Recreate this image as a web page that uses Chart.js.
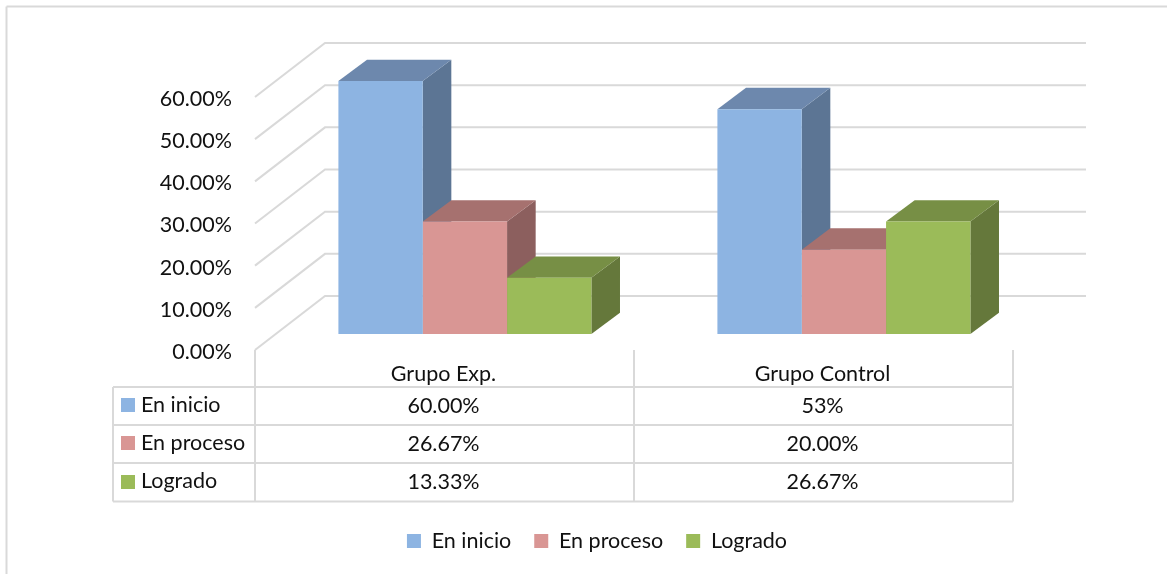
<!DOCTYPE html>
<html><head><meta charset="utf-8">
<style>html,body{margin:0;padding:0;background:#fff}#w{width:1167px;height:574px;position:relative}</style>
<script src="https://cdn.jsdelivr.net/npm/chart.js@4"></script>
</head><body><div id="w"><canvas id="c" width="1167" height="574"></canvas></div>
<script>
const categories = ['Grupo Exp.', 'Grupo Control'];
const seriesNames = ['En inicio', 'En proceso', 'Logrado'];
const enInicio = [60.00, 53.33];
const enProceso = [26.67, 20.00];
const logrado = [13.33, 26.67];
const tableRows = [['60.00%', '53%'], ['26.67%', '20.00%'], ['13.33%', '26.67%']];
const frontColors = ['#8DB4E2', '#D99694', '#9BBB59'];
const topColors = ['#6D88AD', '#A6716F', '#778F45'];
const sideColors = ['#5C7594', '#8C5F5E', '#65783B'];

const FONT = 'Lato';
const FS = 21.5;
const GRID = '#d9d9d9';
const AREA = {left: 255, right: 1013, top: 97, bottom: 350};
const WALL = {dx: 70, dy: -54, right: 1086};
const SHIFT = {x: 20.4, y: -16};
const DEPTH = {dx: 28.6, dy: -21.3};
const TABLE = {left: 113, rows: [387, 425, 463, 501.5]};
const LEGEND_PAD = 23;

function poly(ctx, pts, color) {
  ctx.fillStyle = color; ctx.beginPath();
  pts.forEach((p, i) => i ? ctx.lineTo(p[0], p[1]) : ctx.moveTo(p[0], p[1]));
  ctx.closePath(); ctx.fill();
}
function seg(ctx, x1, y1, x2, y2) { ctx.beginPath(); ctx.moveTo(x1, y1); ctx.lineTo(x2, y2); ctx.stroke(); }

const scene = {
  id: 'scene',
  afterLayout(chart) {
    const lg = chart.legend;
    const w = lg.right - lg.left;
    lg.left = 597 - w / 2; lg.right = lg.left + w;
    lg.top = 541 - FS / 2 - LEGEND_PAD; lg.bottom = lg.top + lg.height;
  },
  beforeDraw(chart) {
    const ctx = chart.ctx, y = chart.scales.y, x = chart.scales.x;
    ctx.save();
    ctx.fillStyle = '#fff'; ctx.fillRect(0, 0, 1167, 574);
    ctx.strokeStyle = GRID; ctx.lineWidth = 2;
    seg(ctx, 6.5, 6.5, 1167, 6.5); seg(ctx, 6.5, 6.5, 6.5, 574);
    const bottom = y.getPixelForValue(0), left = x.left;
    y.ticks.forEach(t => {
      const py = y.getPixelForValue(t.value);
      ctx.beginPath();
      ctx.moveTo(left, py); ctx.lineTo(left + WALL.dx, py + WALL.dy); ctx.lineTo(WALL.right, py + WALL.dy);
      ctx.stroke();
    });
    const colEdges = [left, left + (x.right - left) / 2, x.right];
    colEdges.forEach(cx => seg(ctx, cx, bottom, cx, TABLE.rows[3]));
    seg(ctx, TABLE.left, TABLE.rows[0], TABLE.left, TABLE.rows[3]);
    TABLE.rows.forEach(r => seg(ctx, TABLE.left, r, x.right, r));
    ctx.font = FS + 'px ' + FONT; ctx.textBaseline = 'middle';
    seriesNames.forEach((n, i) => {
      const cy = (TABLE.rows[i] + TABLE.rows[i + 1]) / 2;
      ctx.fillStyle = frontColors[i]; ctx.fillRect(121, Math.round(cy - 7.6), 14, 14);
      ctx.fillStyle = '#111'; ctx.textAlign = 'left';
      ctx.fillText(n, 141, cy - 1);
      ctx.textAlign = 'center';
      categories.forEach((c, j) => ctx.fillText(tableRows[i][j], x.getPixelForTick(j) - 1, cy));
    });
    ctx.restore();
  },
  beforeDatasetsDraw(chart) {
    const ctx = chart.ctx;
    ctx.save();
    ctx.translate(SHIFT.x, SHIFT.y);
    chart.data.datasets.forEach((d, i) => {
      chart.getDatasetMeta(i).data.forEach(b => {
        const l = b.x - b.width / 2, r = b.x + b.width / 2, t = b.y, bt = b.base;
        poly(ctx, [[r, t], [r + DEPTH.dx, t + DEPTH.dy], [r + DEPTH.dx, bt + DEPTH.dy], [r, bt]], sideColors[i]);
        poly(ctx, [[l, t], [l + DEPTH.dx, t + DEPTH.dy], [r + DEPTH.dx, t + DEPTH.dy], [r, t]], topColors[i]);
      });
    });
  },
  afterDatasetsDraw(chart) { chart.ctx.restore(); }
};

new Chart(document.getElementById('c'), {
  type: 'bar',
  plugins: [scene],
  data: {
    labels: categories,
    datasets: [enInicio, enProceso, logrado].map((d, i) => ({
      label: seriesNames[i], data: d, backgroundColor: frontColors[i],
      borderWidth: 0, clip: false,
      categoryPercentage: 0.6675, barPercentage: 1
    }))
  },
  options: {
    responsive: false, animation: false,
    layout: {padding: {left: 0, right: 1167 - AREA.right, top: AREA.top, bottom: 0}},
    plugins: {
      tooltip: {enabled: false},
      legend: {
        position: 'bottom',
        labels: {boxWidth: 14, boxHeight: 14, padding: LEGEND_PAD, color: '#111', font: {family: FONT, size: FS}}
      }
    },
    scales: {
      x: {
        grid: {display: false}, border: {display: false},
        ticks: {color: '#111', font: {family: FONT, size: FS}, padding: 3, maxRotation: 0, labelOffset: -1},
        afterFit(s) { s.height = 574 - AREA.bottom - (s.chart.legend ? s.chart.legend.height : 0); }
      },
      y: {
        min: 0, max: 60,
        grid: {display: false}, border: {display: false},
        ticks: {stepSize: 10, color: '#111', font: {family: FONT, size: FS}, padding: 15, labelOffset: 2,
          callback: v => v.toFixed(2) + '%'},
        afterFit(s) { s.width = AREA.left; }
      }
    }
  }
});
</script></body></html>
